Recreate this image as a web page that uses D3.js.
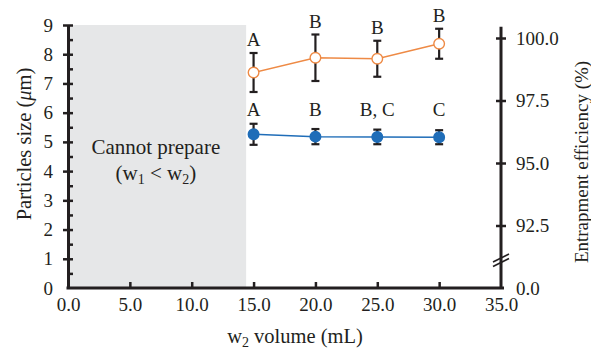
<!DOCTYPE html>
<html>
<head>
<meta charset="utf-8">
<script src="https://cdn.jsdelivr.net/npm/d3@7"></script>
<style>
  body { margin: 0; background: #fff; }
  svg text { font-family: "Liberation Serif", "DejaVu Serif", serif; fill: #231f20; }
  .axis path, .axis line { stroke: #231f20; }
</style>
</head>
<body>
<svg id="chart" width="591" height="353"></svg>
<script>
// w2 volumes (mL)
var volumes = [15, 20, 25, 30];
// particle size (um), left axis
var sizeMean = [5.26, 5.18, 5.17, 5.16];
var sizeErr = [0.36, 0.26, 0.25, 0.24];
var sizeLetters = ["A", "B", "B, C", "C"];
// entrapment efficiency (%), right axis
var eeMean = [98.62, 99.21, 99.17, 99.77];
var eeErr = [0.78, 0.93, 0.72, 0.6];
var eeLetters = ["A", "B", "B", "B"];

var xTicks = [0, 5, 10, 15, 20, 25, 30, 35];
var leftTicks = [0, 1, 2, 3, 4, 5, 6, 7, 8, 9];
var rightTicks = [90, 92.5, 95, 97.5, 100];
var cannotPrepareLimit = 14.4;

var ink = "#231f20",
  orange = "#ee8a45",
  blue = "#1f6db8",
  fontSize = 19;

var svg = d3.select("#chart");

var x = d3.scaleLinear().domain([0, 35]).range([68, 501]);
var yL = d3.scaleLinear().domain([0, 9]).range([288, 25]);
var yR = d3.scaleLinear().domain([90, 100]).range([288, 38]);

// grey "cannot prepare" region
svg.append("rect")
  .attr("x", x(0))
  .attr("y", yL(9))
  .attr("width", x(cannotPrepareLimit) - x(0))
  .attr("height", yL(0) - yL(9))
  .attr("fill", "#e6e7e8");

var note = svg.append("text")
  .attr("text-anchor", "middle")
  .style("font-size", "21px");
note.append("tspan").attr("x", x(7.1)).attr("y", yL(4.6)).text("Cannot prepare");
var l2 = note.append("tspan").attr("x", x(7.1)).attr("y", yL(3.7));
l2.append("tspan").text("(w");
l2.append("tspan").attr("dy", 4).style("font-size", "14px").text("1");
l2.append("tspan").attr("dy", -4).text(" < w");
l2.append("tspan").attr("dy", 4).style("font-size", "14px").text("2");
l2.append("tspan").attr("dy", -4).text(")");

// x axis
var xAxis = svg.append("g")
  .attr("class", "axis")
  .attr("transform", "translate(0," + yL(0) + ")")
  .call(d3.axisBottom(x).tickValues(xTicks).tickFormat(d3.format(".1f")).tickSize(-6).tickPadding(10).tickSizeOuter(0));
xAxis.select(".domain").attr("stroke-width", 3).attr("d", "M" + (x(0) - 1.5) + ",0H" + (x(35) + 3));
xAxis.selectAll(".tick line").attr("stroke-width", 2.5);
xAxis.selectAll(".tick").filter(function(d) { return d === 0 || d === 35; }).select("line").remove();
xAxis.selectAll("text").style("font-size", fontSize + "px").attr("fill", ink);

// left axis
var leftAxis = svg.append("g")
  .attr("class", "axis")
  .attr("transform", "translate(" + x(0) + ",0)")
  .call(d3.axisLeft(yL).tickValues(leftTicks).tickSize(5).tickPadding(10).tickSizeOuter(0));
leftAxis.select(".domain").attr("stroke-width", 3);
leftAxis.selectAll(".tick line").attr("x1", 5).attr("stroke-width", 2.5);
leftAxis.selectAll(".tick").filter(function(d) { return d === 0; }).select("line").remove();
leftAxis.selectAll("text").style("font-size", fontSize + "px").attr("fill", ink);

svg.append("g")
  .attr("class", "axis")
  .attr("transform", "translate(" + x(0) + ",0)")
  .call(d3.axisRight(yL).tickValues(leftTicks.slice(0, 9).map(function(d) { return d + 0.5; })).tickSize(5).tickFormat("").tickSizeOuter(0))
  .call(function(g) { g.select(".domain").remove(); g.selectAll("line").attr("stroke-width", 2.5); });

// right axis (broken)
var rightAxis = svg.append("g")
  .attr("class", "axis")
  .attr("transform", "translate(" + x(35) + ",0)")
  .call(d3.axisRight(yR).tickValues(rightTicks).tickSize(5).tickPadding(10).tickSizeOuter(0)
    .tickFormat(function(d) { return d === 90 ? "0.0" : d3.format(".1f")(d); }));
rightAxis.select(".domain").attr("stroke-width", 3).attr("d", "M0," + yR(90) + "V" + yR(100.45));
rightAxis.selectAll(".tick line").attr("x1", -5).attr("stroke-width", 2.5);
rightAxis.selectAll(".tick").filter(function(d) { return d === 90; }).select("line").remove();
rightAxis.selectAll("text").style("font-size", fontSize + "px").attr("fill", ink);

// break marks
[91.2, 91.02].forEach(function(v) {
  svg.append("line")
    .attr("x1", x(35) - 8).attr("y1", yR(v) + 4)
    .attr("x2", x(35) + 8).attr("y2", yR(v) - 4)
    .attr("stroke", ink).attr("stroke-width", 1.6);
});

// draw a series with error bars
function drawSeries(mean, err, y, color, fill) {
  var g = svg.append("g");
  var line = d3.line()
    .x(function(d, i) { return x(volumes[i]); })
    .y(function(d) { return y(d); });
  g.append("path")
    .datum(mean)
    .attr("d", line)
    .attr("fill", "none")
    .attr("stroke", color)
    .attr("stroke-width", 1.5);

  var eb = g.selectAll(".eb")
    .data(mean)
    .enter().append("g");
  eb.append("line")
    .attr("x1", function(d, i) { return x(volumes[i]); })
    .attr("x2", function(d, i) { return x(volumes[i]); })
    .attr("y1", function(d, i) { return y(d - err[i]); })
    .attr("y2", function(d, i) { return y(d + err[i]); })
    .attr("stroke", ink).attr("stroke-width", 2.2);
  [-1, 1].forEach(function(s) {
    eb.append("line")
      .attr("x1", function(d, i) { return x(volumes[i]) - 4; })
      .attr("x2", function(d, i) { return x(volumes[i]) + 4; })
      .attr("y1", function(d, i) { return y(d + s * err[i]); })
      .attr("y2", function(d, i) { return y(d + s * err[i]); })
      .attr("stroke", ink).attr("stroke-width", 2.2);
  });

  g.selectAll("circle")
    .data(mean)
    .enter().append("circle")
    .attr("cx", function(d, i) { return x(volumes[i]); })
    .attr("cy", function(d) { return y(d); })
    .attr("r", 5.3)
    .attr("fill", fill)
    .attr("stroke", color)
    .attr("stroke-width", 1.4);
}

drawSeries(eeMean, eeErr, yR, orange, "#fff");
drawSeries(sizeMean, sizeErr, yL, blue, blue);

// significance letters
svg.selectAll(".ee-letter")
  .data(eeMean)
  .enter().append("text")
  .attr("text-anchor", "middle")
  .attr("x", function(d, i) { return x(volumes[i]); })
  .attr("y", function(d, i) { return yR(d + eeErr[i]) - 7; })
  .style("font-size", "19px")
  .text(function(d, i) { return eeLetters[i]; });

svg.selectAll(".size-letter")
  .data(sizeMean)
  .enter().append("text")
  .attr("text-anchor", "middle")
  .attr("x", function(d, i) { return x(volumes[i]); })
  .attr("y", yL(5.9))
  .style("font-size", "19px")
  .text(function(d, i) { return sizeLetters[i]; });

// axis titles
var xt = svg.append("text")
  .attr("text-anchor", "middle")
  .attr("x", 295)
  .attr("y", 343)
  .style("font-size", "20.5px");
xt.append("tspan").text("w");
xt.append("tspan").attr("dy", 4).style("font-size", "14px").text("2");
xt.append("tspan").attr("dy", -4).text(" volume (mL)");

var lt = svg.append("text")
  .attr("text-anchor", "middle")
  .attr("transform", "translate(31,144) rotate(-90)")
  .style("font-size", "20.5px");
lt.append("tspan").text("Particles size (");
lt.append("tspan").style("font-style", "italic").text("\u03bc");
lt.append("tspan").text("m)");

svg.append("text")
  .attr("text-anchor", "middle")
  .attr("transform", "translate(588,162) rotate(-90)")
  .style("font-size", fontSize + "px")
  .text("Entrapment efficiency (%)");
</script>
</body>
</html>
